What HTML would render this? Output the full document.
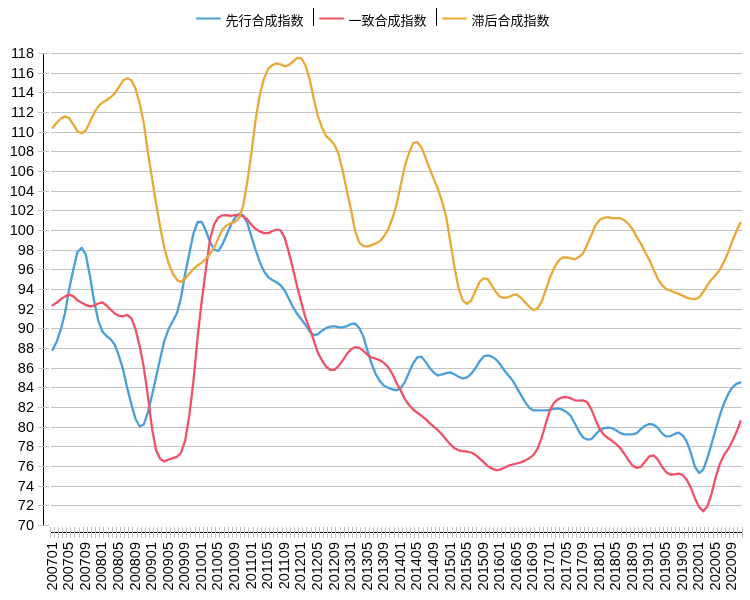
<!DOCTYPE html><html><head><meta charset="utf-8"><title>chart</title><style>
html,body{margin:0;padding:0;background:#fff;}
body{width:750px;height:600px;position:relative;overflow:hidden;font-family:"Liberation Sans","Noto Sans CJK SC",sans-serif;color:#000;}
.yl{position:absolute;left:0;width:34px;text-align:right;font-size:14.5px;line-height:14px;height:14px;}
.xl{position:absolute;font-size:14.5px;line-height:14px;height:14px;width:60px;text-align:right;transform-origin:0 0;transform:rotate(-90deg);white-space:nowrap;}
.lg{position:absolute;top:12.6px;font-size:13px;line-height:16px;white-space:nowrap;}
</style></head><body>
<svg width="750" height="600" viewBox="0 0 750 600" style="position:absolute;left:0;top:0">
<line x1="43.5" y1="54" x2="43.5" y2="525" stroke="#000" stroke-width="1"/>
<line x1="51" y1="53.5" x2="742" y2="53.5" stroke="#c4c4c4" stroke-width="1"/>
<line x1="38" y1="53.5" x2="49" y2="53.5" stroke="#c4c4c4" stroke-width="1"/>
<line x1="51" y1="73.5" x2="742" y2="73.5" stroke="#c4c4c4" stroke-width="1"/>
<line x1="38" y1="73.5" x2="49" y2="73.5" stroke="#c4c4c4" stroke-width="1"/>
<line x1="51" y1="92.5" x2="742" y2="92.5" stroke="#c4c4c4" stroke-width="1"/>
<line x1="38" y1="92.5" x2="49" y2="92.5" stroke="#c4c4c4" stroke-width="1"/>
<line x1="51" y1="112.5" x2="742" y2="112.5" stroke="#c4c4c4" stroke-width="1"/>
<line x1="38" y1="112.5" x2="49" y2="112.5" stroke="#c4c4c4" stroke-width="1"/>
<line x1="51" y1="132.5" x2="742" y2="132.5" stroke="#c4c4c4" stroke-width="1"/>
<line x1="38" y1="132.5" x2="49" y2="132.5" stroke="#c4c4c4" stroke-width="1"/>
<line x1="51" y1="151.5" x2="742" y2="151.5" stroke="#c4c4c4" stroke-width="1"/>
<line x1="38" y1="151.5" x2="49" y2="151.5" stroke="#c4c4c4" stroke-width="1"/>
<line x1="51" y1="171.5" x2="742" y2="171.5" stroke="#c4c4c4" stroke-width="1"/>
<line x1="38" y1="171.5" x2="49" y2="171.5" stroke="#c4c4c4" stroke-width="1"/>
<line x1="51" y1="191.5" x2="742" y2="191.5" stroke="#c4c4c4" stroke-width="1"/>
<line x1="38" y1="191.5" x2="49" y2="191.5" stroke="#c4c4c4" stroke-width="1"/>
<line x1="51" y1="210.5" x2="742" y2="210.5" stroke="#c4c4c4" stroke-width="1"/>
<line x1="38" y1="210.5" x2="49" y2="210.5" stroke="#c4c4c4" stroke-width="1"/>
<line x1="51" y1="230.5" x2="742" y2="230.5" stroke="#c4c4c4" stroke-width="1"/>
<line x1="38" y1="230.5" x2="49" y2="230.5" stroke="#c4c4c4" stroke-width="1"/>
<line x1="51" y1="250.5" x2="742" y2="250.5" stroke="#c4c4c4" stroke-width="1"/>
<line x1="38" y1="250.5" x2="49" y2="250.5" stroke="#c4c4c4" stroke-width="1"/>
<line x1="51" y1="269.5" x2="742" y2="269.5" stroke="#c4c4c4" stroke-width="1"/>
<line x1="38" y1="269.5" x2="49" y2="269.5" stroke="#c4c4c4" stroke-width="1"/>
<line x1="51" y1="289.5" x2="742" y2="289.5" stroke="#c4c4c4" stroke-width="1"/>
<line x1="38" y1="289.5" x2="49" y2="289.5" stroke="#c4c4c4" stroke-width="1"/>
<line x1="51" y1="309.5" x2="742" y2="309.5" stroke="#c4c4c4" stroke-width="1"/>
<line x1="38" y1="309.5" x2="49" y2="309.5" stroke="#c4c4c4" stroke-width="1"/>
<line x1="51" y1="328.5" x2="742" y2="328.5" stroke="#c4c4c4" stroke-width="1"/>
<line x1="38" y1="328.5" x2="49" y2="328.5" stroke="#c4c4c4" stroke-width="1"/>
<line x1="51" y1="348.5" x2="742" y2="348.5" stroke="#c4c4c4" stroke-width="1"/>
<line x1="38" y1="348.5" x2="49" y2="348.5" stroke="#c4c4c4" stroke-width="1"/>
<line x1="51" y1="368.5" x2="742" y2="368.5" stroke="#c4c4c4" stroke-width="1"/>
<line x1="38" y1="368.5" x2="49" y2="368.5" stroke="#c4c4c4" stroke-width="1"/>
<line x1="51" y1="387.5" x2="742" y2="387.5" stroke="#c4c4c4" stroke-width="1"/>
<line x1="38" y1="387.5" x2="49" y2="387.5" stroke="#c4c4c4" stroke-width="1"/>
<line x1="51" y1="407.5" x2="742" y2="407.5" stroke="#c4c4c4" stroke-width="1"/>
<line x1="38" y1="407.5" x2="49" y2="407.5" stroke="#c4c4c4" stroke-width="1"/>
<line x1="51" y1="427.5" x2="742" y2="427.5" stroke="#c4c4c4" stroke-width="1"/>
<line x1="38" y1="427.5" x2="49" y2="427.5" stroke="#c4c4c4" stroke-width="1"/>
<line x1="51" y1="446.5" x2="742" y2="446.5" stroke="#c4c4c4" stroke-width="1"/>
<line x1="38" y1="446.5" x2="49" y2="446.5" stroke="#c4c4c4" stroke-width="1"/>
<line x1="51" y1="466.5" x2="742" y2="466.5" stroke="#c4c4c4" stroke-width="1"/>
<line x1="38" y1="466.5" x2="49" y2="466.5" stroke="#c4c4c4" stroke-width="1"/>
<line x1="51" y1="486.5" x2="742" y2="486.5" stroke="#c4c4c4" stroke-width="1"/>
<line x1="38" y1="486.5" x2="49" y2="486.5" stroke="#c4c4c4" stroke-width="1"/>
<line x1="51" y1="505.5" x2="742" y2="505.5" stroke="#c4c4c4" stroke-width="1"/>
<line x1="38" y1="505.5" x2="49" y2="505.5" stroke="#c4c4c4" stroke-width="1"/>
<line x1="38" y1="525.5" x2="49" y2="525.5" stroke="#c4c4c4" stroke-width="1"/>
<line x1="50" y1="532.5" x2="743" y2="532.5" stroke="#000" stroke-width="1"/>
<line x1="50.5" y1="527" x2="50.5" y2="538" stroke="#c4c4c4" stroke-width="1"/>
<line x1="54.5" y1="527" x2="54.5" y2="538" stroke="#c4c4c4" stroke-width="1"/>
<line x1="58.5" y1="527" x2="58.5" y2="538" stroke="#c4c4c4" stroke-width="1"/>
<line x1="62.5" y1="527" x2="62.5" y2="538" stroke="#c4c4c4" stroke-width="1"/>
<line x1="66.5" y1="527" x2="66.5" y2="538" stroke="#c4c4c4" stroke-width="1"/>
<line x1="70.5" y1="527" x2="70.5" y2="538" stroke="#c4c4c4" stroke-width="1"/>
<line x1="74.5" y1="527" x2="74.5" y2="538" stroke="#c4c4c4" stroke-width="1"/>
<line x1="79.5" y1="527" x2="79.5" y2="538" stroke="#c4c4c4" stroke-width="1"/>
<line x1="83.5" y1="527" x2="83.5" y2="538" stroke="#c4c4c4" stroke-width="1"/>
<line x1="87.5" y1="527" x2="87.5" y2="538" stroke="#c4c4c4" stroke-width="1"/>
<line x1="91.5" y1="527" x2="91.5" y2="538" stroke="#c4c4c4" stroke-width="1"/>
<line x1="95.5" y1="527" x2="95.5" y2="538" stroke="#c4c4c4" stroke-width="1"/>
<line x1="99.5" y1="527" x2="99.5" y2="538" stroke="#c4c4c4" stroke-width="1"/>
<line x1="103.5" y1="527" x2="103.5" y2="538" stroke="#c4c4c4" stroke-width="1"/>
<line x1="108.5" y1="527" x2="108.5" y2="538" stroke="#c4c4c4" stroke-width="1"/>
<line x1="112.5" y1="527" x2="112.5" y2="538" stroke="#c4c4c4" stroke-width="1"/>
<line x1="116.5" y1="527" x2="116.5" y2="538" stroke="#c4c4c4" stroke-width="1"/>
<line x1="120.5" y1="527" x2="120.5" y2="538" stroke="#c4c4c4" stroke-width="1"/>
<line x1="124.5" y1="527" x2="124.5" y2="538" stroke="#c4c4c4" stroke-width="1"/>
<line x1="128.5" y1="527" x2="128.5" y2="538" stroke="#c4c4c4" stroke-width="1"/>
<line x1="132.5" y1="527" x2="132.5" y2="538" stroke="#c4c4c4" stroke-width="1"/>
<line x1="137.5" y1="527" x2="137.5" y2="538" stroke="#c4c4c4" stroke-width="1"/>
<line x1="141.5" y1="527" x2="141.5" y2="538" stroke="#c4c4c4" stroke-width="1"/>
<line x1="145.5" y1="527" x2="145.5" y2="538" stroke="#c4c4c4" stroke-width="1"/>
<line x1="149.5" y1="527" x2="149.5" y2="538" stroke="#c4c4c4" stroke-width="1"/>
<line x1="153.5" y1="527" x2="153.5" y2="538" stroke="#c4c4c4" stroke-width="1"/>
<line x1="157.5" y1="527" x2="157.5" y2="538" stroke="#c4c4c4" stroke-width="1"/>
<line x1="161.5" y1="527" x2="161.5" y2="538" stroke="#c4c4c4" stroke-width="1"/>
<line x1="166.5" y1="527" x2="166.5" y2="538" stroke="#c4c4c4" stroke-width="1"/>
<line x1="170.5" y1="527" x2="170.5" y2="538" stroke="#c4c4c4" stroke-width="1"/>
<line x1="174.5" y1="527" x2="174.5" y2="538" stroke="#c4c4c4" stroke-width="1"/>
<line x1="178.5" y1="527" x2="178.5" y2="538" stroke="#c4c4c4" stroke-width="1"/>
<line x1="182.5" y1="527" x2="182.5" y2="538" stroke="#c4c4c4" stroke-width="1"/>
<line x1="186.5" y1="527" x2="186.5" y2="538" stroke="#c4c4c4" stroke-width="1"/>
<line x1="190.5" y1="527" x2="190.5" y2="538" stroke="#c4c4c4" stroke-width="1"/>
<line x1="195.5" y1="527" x2="195.5" y2="538" stroke="#c4c4c4" stroke-width="1"/>
<line x1="199.5" y1="527" x2="199.5" y2="538" stroke="#c4c4c4" stroke-width="1"/>
<line x1="203.5" y1="527" x2="203.5" y2="538" stroke="#c4c4c4" stroke-width="1"/>
<line x1="207.5" y1="527" x2="207.5" y2="538" stroke="#c4c4c4" stroke-width="1"/>
<line x1="211.5" y1="527" x2="211.5" y2="538" stroke="#c4c4c4" stroke-width="1"/>
<line x1="215.5" y1="527" x2="215.5" y2="538" stroke="#c4c4c4" stroke-width="1"/>
<line x1="219.5" y1="527" x2="219.5" y2="538" stroke="#c4c4c4" stroke-width="1"/>
<line x1="224.5" y1="527" x2="224.5" y2="538" stroke="#c4c4c4" stroke-width="1"/>
<line x1="228.5" y1="527" x2="228.5" y2="538" stroke="#c4c4c4" stroke-width="1"/>
<line x1="232.5" y1="527" x2="232.5" y2="538" stroke="#c4c4c4" stroke-width="1"/>
<line x1="236.5" y1="527" x2="236.5" y2="538" stroke="#c4c4c4" stroke-width="1"/>
<line x1="240.5" y1="527" x2="240.5" y2="538" stroke="#c4c4c4" stroke-width="1"/>
<line x1="244.5" y1="527" x2="244.5" y2="538" stroke="#c4c4c4" stroke-width="1"/>
<line x1="248.5" y1="527" x2="248.5" y2="538" stroke="#c4c4c4" stroke-width="1"/>
<line x1="253.5" y1="527" x2="253.5" y2="538" stroke="#c4c4c4" stroke-width="1"/>
<line x1="257.5" y1="527" x2="257.5" y2="538" stroke="#c4c4c4" stroke-width="1"/>
<line x1="261.5" y1="527" x2="261.5" y2="538" stroke="#c4c4c4" stroke-width="1"/>
<line x1="265.5" y1="527" x2="265.5" y2="538" stroke="#c4c4c4" stroke-width="1"/>
<line x1="269.5" y1="527" x2="269.5" y2="538" stroke="#c4c4c4" stroke-width="1"/>
<line x1="273.5" y1="527" x2="273.5" y2="538" stroke="#c4c4c4" stroke-width="1"/>
<line x1="277.5" y1="527" x2="277.5" y2="538" stroke="#c4c4c4" stroke-width="1"/>
<line x1="282.5" y1="527" x2="282.5" y2="538" stroke="#c4c4c4" stroke-width="1"/>
<line x1="286.5" y1="527" x2="286.5" y2="538" stroke="#c4c4c4" stroke-width="1"/>
<line x1="290.5" y1="527" x2="290.5" y2="538" stroke="#c4c4c4" stroke-width="1"/>
<line x1="294.5" y1="527" x2="294.5" y2="538" stroke="#c4c4c4" stroke-width="1"/>
<line x1="298.5" y1="527" x2="298.5" y2="538" stroke="#c4c4c4" stroke-width="1"/>
<line x1="302.5" y1="527" x2="302.5" y2="538" stroke="#c4c4c4" stroke-width="1"/>
<line x1="306.5" y1="527" x2="306.5" y2="538" stroke="#c4c4c4" stroke-width="1"/>
<line x1="311.5" y1="527" x2="311.5" y2="538" stroke="#c4c4c4" stroke-width="1"/>
<line x1="315.5" y1="527" x2="315.5" y2="538" stroke="#c4c4c4" stroke-width="1"/>
<line x1="319.5" y1="527" x2="319.5" y2="538" stroke="#c4c4c4" stroke-width="1"/>
<line x1="323.5" y1="527" x2="323.5" y2="538" stroke="#c4c4c4" stroke-width="1"/>
<line x1="327.5" y1="527" x2="327.5" y2="538" stroke="#c4c4c4" stroke-width="1"/>
<line x1="331.5" y1="527" x2="331.5" y2="538" stroke="#c4c4c4" stroke-width="1"/>
<line x1="335.5" y1="527" x2="335.5" y2="538" stroke="#c4c4c4" stroke-width="1"/>
<line x1="340.5" y1="527" x2="340.5" y2="538" stroke="#c4c4c4" stroke-width="1"/>
<line x1="344.5" y1="527" x2="344.5" y2="538" stroke="#c4c4c4" stroke-width="1"/>
<line x1="348.5" y1="527" x2="348.5" y2="538" stroke="#c4c4c4" stroke-width="1"/>
<line x1="352.5" y1="527" x2="352.5" y2="538" stroke="#c4c4c4" stroke-width="1"/>
<line x1="356.5" y1="527" x2="356.5" y2="538" stroke="#c4c4c4" stroke-width="1"/>
<line x1="360.5" y1="527" x2="360.5" y2="538" stroke="#c4c4c4" stroke-width="1"/>
<line x1="365.5" y1="527" x2="365.5" y2="538" stroke="#c4c4c4" stroke-width="1"/>
<line x1="369.5" y1="527" x2="369.5" y2="538" stroke="#c4c4c4" stroke-width="1"/>
<line x1="373.5" y1="527" x2="373.5" y2="538" stroke="#c4c4c4" stroke-width="1"/>
<line x1="377.5" y1="527" x2="377.5" y2="538" stroke="#c4c4c4" stroke-width="1"/>
<line x1="381.5" y1="527" x2="381.5" y2="538" stroke="#c4c4c4" stroke-width="1"/>
<line x1="385.5" y1="527" x2="385.5" y2="538" stroke="#c4c4c4" stroke-width="1"/>
<line x1="389.5" y1="527" x2="389.5" y2="538" stroke="#c4c4c4" stroke-width="1"/>
<line x1="394.5" y1="527" x2="394.5" y2="538" stroke="#c4c4c4" stroke-width="1"/>
<line x1="398.5" y1="527" x2="398.5" y2="538" stroke="#c4c4c4" stroke-width="1"/>
<line x1="402.5" y1="527" x2="402.5" y2="538" stroke="#c4c4c4" stroke-width="1"/>
<line x1="406.5" y1="527" x2="406.5" y2="538" stroke="#c4c4c4" stroke-width="1"/>
<line x1="410.5" y1="527" x2="410.5" y2="538" stroke="#c4c4c4" stroke-width="1"/>
<line x1="414.5" y1="527" x2="414.5" y2="538" stroke="#c4c4c4" stroke-width="1"/>
<line x1="418.5" y1="527" x2="418.5" y2="538" stroke="#c4c4c4" stroke-width="1"/>
<line x1="423.5" y1="527" x2="423.5" y2="538" stroke="#c4c4c4" stroke-width="1"/>
<line x1="427.5" y1="527" x2="427.5" y2="538" stroke="#c4c4c4" stroke-width="1"/>
<line x1="431.5" y1="527" x2="431.5" y2="538" stroke="#c4c4c4" stroke-width="1"/>
<line x1="435.5" y1="527" x2="435.5" y2="538" stroke="#c4c4c4" stroke-width="1"/>
<line x1="439.5" y1="527" x2="439.5" y2="538" stroke="#c4c4c4" stroke-width="1"/>
<line x1="443.5" y1="527" x2="443.5" y2="538" stroke="#c4c4c4" stroke-width="1"/>
<line x1="447.5" y1="527" x2="447.5" y2="538" stroke="#c4c4c4" stroke-width="1"/>
<line x1="452.5" y1="527" x2="452.5" y2="538" stroke="#c4c4c4" stroke-width="1"/>
<line x1="456.5" y1="527" x2="456.5" y2="538" stroke="#c4c4c4" stroke-width="1"/>
<line x1="460.5" y1="527" x2="460.5" y2="538" stroke="#c4c4c4" stroke-width="1"/>
<line x1="464.5" y1="527" x2="464.5" y2="538" stroke="#c4c4c4" stroke-width="1"/>
<line x1="468.5" y1="527" x2="468.5" y2="538" stroke="#c4c4c4" stroke-width="1"/>
<line x1="472.5" y1="527" x2="472.5" y2="538" stroke="#c4c4c4" stroke-width="1"/>
<line x1="476.5" y1="527" x2="476.5" y2="538" stroke="#c4c4c4" stroke-width="1"/>
<line x1="481.5" y1="527" x2="481.5" y2="538" stroke="#c4c4c4" stroke-width="1"/>
<line x1="485.5" y1="527" x2="485.5" y2="538" stroke="#c4c4c4" stroke-width="1"/>
<line x1="489.5" y1="527" x2="489.5" y2="538" stroke="#c4c4c4" stroke-width="1"/>
<line x1="493.5" y1="527" x2="493.5" y2="538" stroke="#c4c4c4" stroke-width="1"/>
<line x1="497.5" y1="527" x2="497.5" y2="538" stroke="#c4c4c4" stroke-width="1"/>
<line x1="501.5" y1="527" x2="501.5" y2="538" stroke="#c4c4c4" stroke-width="1"/>
<line x1="505.5" y1="527" x2="505.5" y2="538" stroke="#c4c4c4" stroke-width="1"/>
<line x1="510.5" y1="527" x2="510.5" y2="538" stroke="#c4c4c4" stroke-width="1"/>
<line x1="514.5" y1="527" x2="514.5" y2="538" stroke="#c4c4c4" stroke-width="1"/>
<line x1="518.5" y1="527" x2="518.5" y2="538" stroke="#c4c4c4" stroke-width="1"/>
<line x1="522.5" y1="527" x2="522.5" y2="538" stroke="#c4c4c4" stroke-width="1"/>
<line x1="526.5" y1="527" x2="526.5" y2="538" stroke="#c4c4c4" stroke-width="1"/>
<line x1="530.5" y1="527" x2="530.5" y2="538" stroke="#c4c4c4" stroke-width="1"/>
<line x1="534.5" y1="527" x2="534.5" y2="538" stroke="#c4c4c4" stroke-width="1"/>
<line x1="539.5" y1="527" x2="539.5" y2="538" stroke="#c4c4c4" stroke-width="1"/>
<line x1="543.5" y1="527" x2="543.5" y2="538" stroke="#c4c4c4" stroke-width="1"/>
<line x1="547.5" y1="527" x2="547.5" y2="538" stroke="#c4c4c4" stroke-width="1"/>
<line x1="551.5" y1="527" x2="551.5" y2="538" stroke="#c4c4c4" stroke-width="1"/>
<line x1="555.5" y1="527" x2="555.5" y2="538" stroke="#c4c4c4" stroke-width="1"/>
<line x1="559.5" y1="527" x2="559.5" y2="538" stroke="#c4c4c4" stroke-width="1"/>
<line x1="563.5" y1="527" x2="563.5" y2="538" stroke="#c4c4c4" stroke-width="1"/>
<line x1="568.5" y1="527" x2="568.5" y2="538" stroke="#c4c4c4" stroke-width="1"/>
<line x1="572.5" y1="527" x2="572.5" y2="538" stroke="#c4c4c4" stroke-width="1"/>
<line x1="576.5" y1="527" x2="576.5" y2="538" stroke="#c4c4c4" stroke-width="1"/>
<line x1="580.5" y1="527" x2="580.5" y2="538" stroke="#c4c4c4" stroke-width="1"/>
<line x1="584.5" y1="527" x2="584.5" y2="538" stroke="#c4c4c4" stroke-width="1"/>
<line x1="588.5" y1="527" x2="588.5" y2="538" stroke="#c4c4c4" stroke-width="1"/>
<line x1="592.5" y1="527" x2="592.5" y2="538" stroke="#c4c4c4" stroke-width="1"/>
<line x1="597.5" y1="527" x2="597.5" y2="538" stroke="#c4c4c4" stroke-width="1"/>
<line x1="601.5" y1="527" x2="601.5" y2="538" stroke="#c4c4c4" stroke-width="1"/>
<line x1="605.5" y1="527" x2="605.5" y2="538" stroke="#c4c4c4" stroke-width="1"/>
<line x1="609.5" y1="527" x2="609.5" y2="538" stroke="#c4c4c4" stroke-width="1"/>
<line x1="613.5" y1="527" x2="613.5" y2="538" stroke="#c4c4c4" stroke-width="1"/>
<line x1="617.5" y1="527" x2="617.5" y2="538" stroke="#c4c4c4" stroke-width="1"/>
<line x1="621.5" y1="527" x2="621.5" y2="538" stroke="#c4c4c4" stroke-width="1"/>
<line x1="626.5" y1="527" x2="626.5" y2="538" stroke="#c4c4c4" stroke-width="1"/>
<line x1="630.5" y1="527" x2="630.5" y2="538" stroke="#c4c4c4" stroke-width="1"/>
<line x1="634.5" y1="527" x2="634.5" y2="538" stroke="#c4c4c4" stroke-width="1"/>
<line x1="638.5" y1="527" x2="638.5" y2="538" stroke="#c4c4c4" stroke-width="1"/>
<line x1="642.5" y1="527" x2="642.5" y2="538" stroke="#c4c4c4" stroke-width="1"/>
<line x1="646.5" y1="527" x2="646.5" y2="538" stroke="#c4c4c4" stroke-width="1"/>
<line x1="650.5" y1="527" x2="650.5" y2="538" stroke="#c4c4c4" stroke-width="1"/>
<line x1="655.5" y1="527" x2="655.5" y2="538" stroke="#c4c4c4" stroke-width="1"/>
<line x1="659.5" y1="527" x2="659.5" y2="538" stroke="#c4c4c4" stroke-width="1"/>
<line x1="663.5" y1="527" x2="663.5" y2="538" stroke="#c4c4c4" stroke-width="1"/>
<line x1="667.5" y1="527" x2="667.5" y2="538" stroke="#c4c4c4" stroke-width="1"/>
<line x1="671.5" y1="527" x2="671.5" y2="538" stroke="#c4c4c4" stroke-width="1"/>
<line x1="675.5" y1="527" x2="675.5" y2="538" stroke="#c4c4c4" stroke-width="1"/>
<line x1="679.5" y1="527" x2="679.5" y2="538" stroke="#c4c4c4" stroke-width="1"/>
<line x1="684.5" y1="527" x2="684.5" y2="538" stroke="#c4c4c4" stroke-width="1"/>
<line x1="688.5" y1="527" x2="688.5" y2="538" stroke="#c4c4c4" stroke-width="1"/>
<line x1="692.5" y1="527" x2="692.5" y2="538" stroke="#c4c4c4" stroke-width="1"/>
<line x1="696.5" y1="527" x2="696.5" y2="538" stroke="#c4c4c4" stroke-width="1"/>
<line x1="700.5" y1="527" x2="700.5" y2="538" stroke="#c4c4c4" stroke-width="1"/>
<line x1="704.5" y1="527" x2="704.5" y2="538" stroke="#c4c4c4" stroke-width="1"/>
<line x1="708.5" y1="527" x2="708.5" y2="538" stroke="#c4c4c4" stroke-width="1"/>
<line x1="713.5" y1="527" x2="713.5" y2="538" stroke="#c4c4c4" stroke-width="1"/>
<line x1="717.5" y1="527" x2="717.5" y2="538" stroke="#c4c4c4" stroke-width="1"/>
<line x1="721.5" y1="527" x2="721.5" y2="538" stroke="#c4c4c4" stroke-width="1"/>
<line x1="725.5" y1="527" x2="725.5" y2="538" stroke="#c4c4c4" stroke-width="1"/>
<line x1="729.5" y1="527" x2="729.5" y2="538" stroke="#c4c4c4" stroke-width="1"/>
<line x1="733.5" y1="527" x2="733.5" y2="538" stroke="#c4c4c4" stroke-width="1"/>
<line x1="737.5" y1="527" x2="737.5" y2="538" stroke="#c4c4c4" stroke-width="1"/>
<line x1="742.5" y1="527" x2="742.5" y2="538" stroke="#c4c4c4" stroke-width="1"/>
<path d="M52.6,349.9L56.8,341.4L60.9,329.2L65.1,312.5L69.2,288.9L73.4,269.3L77.5,251.8L81.7,247.8L85.8,254.7L89.9,275.7L94.1,300.7L98.2,320.4L102.4,331.4L106.5,336.0L110.7,339.4L114.8,344.8L118.9,355.9L123.1,369.4L127.2,387.9L131.4,404.4L135.5,418.7L139.7,426.5L143.8,424.5L148.0,412.2L152.1,395.1L156.2,376.4L160.4,357.7L164.5,340.3L168.7,328.8L172.8,321.3L177.0,313.1L181.1,297.3L185.2,273.5L189.4,253.0L193.5,233.3L197.7,222.0L201.8,221.9L206.0,231.1L210.1,242.0L214.3,249.7L218.4,251.0L222.5,244.3L226.7,234.5L230.8,225.3L235.0,217.7L239.1,213.7L243.3,215.5L247.4,223.3L251.5,236.8L255.7,250.1L259.8,262.1L264.0,271.4L268.1,277.0L272.3,280.1L276.4,282.3L280.6,285.3L284.7,290.6L288.8,298.7L293.0,307.0L297.1,313.8L301.3,319.3L305.4,324.7L309.6,331.4L313.7,335.0L317.8,334.4L322.0,330.7L326.1,328.1L330.3,326.7L334.4,326.1L338.6,327.3L342.7,327.4L346.9,326.1L351.0,323.9L355.1,323.6L359.3,328.1L363.4,336.7L367.6,351.1L371.7,364.1L375.9,374.5L380.0,381.4L384.1,385.7L388.3,387.7L392.4,389.4L396.6,390.3L400.7,388.1L404.9,382.1L409.0,372.5L413.2,363.1L417.3,357.4L421.4,356.6L425.6,361.9L429.7,367.9L433.9,372.7L438.0,375.5L442.2,374.4L446.3,373.1L450.4,372.4L454.6,374.5L458.7,376.7L462.9,378.5L467.0,377.4L471.2,373.8L475.3,368.5L479.5,361.4L483.6,356.4L487.7,355.4L491.9,356.6L496.0,359.4L500.2,364.3L504.3,370.4L508.5,375.5L512.6,380.4L516.7,387.6L520.9,394.9L525.0,401.9L529.2,407.7L533.3,410.4L537.5,410.4L541.6,410.4L545.8,410.4L549.9,409.9L554.0,408.9L558.2,408.3L562.3,409.7L566.5,412.0L570.6,415.6L574.8,423.5L578.9,431.5L583.0,437.4L587.2,439.6L591.3,439.2L595.5,434.6L599.6,430.4L603.8,428.2L607.9,427.6L612.0,428.2L616.2,430.3L620.3,433.1L624.5,434.4L628.6,434.4L632.8,434.4L636.9,433.1L641.1,428.8L645.2,425.7L649.3,424.0L653.5,424.7L657.6,427.6L661.8,433.1L665.9,436.4L670.1,436.2L674.2,434.1L678.3,432.6L682.5,435.2L686.6,441.4L690.8,452.6L694.9,466.7L699.1,473.1L703.2,469.6L707.4,458.2L711.5,444.0L715.6,429.7L719.8,415.5L723.9,403.7L728.1,394.1L732.2,387.6L736.4,383.9L740.5,382.4" fill="none" stroke="#4a9fd8" stroke-width="2.3" stroke-linejoin="round" stroke-linecap="round"/>
<path d="M52.6,305.4L56.8,302.5L60.9,299.1L65.1,296.4L69.2,294.6L73.4,296.4L77.5,300.3L81.7,302.7L85.8,304.9L89.9,306.4L94.1,305.6L98.2,303.5L102.4,302.4L106.5,305.5L110.7,309.7L114.8,313.5L118.9,315.8L123.1,316.1L127.2,315.0L131.4,318.3L135.5,329.1L139.7,346.4L143.8,367.4L148.0,396.7L152.1,429.2L156.2,450.5L160.4,459.2L164.5,461.4L168.7,459.5L172.8,458.1L177.0,456.8L181.1,452.7L185.2,440.4L189.4,414.9L193.5,380.6L197.7,336.1L201.8,300.5L206.0,268.3L210.1,238.8L214.3,224.0L218.4,217.4L222.5,215.3L226.7,215.2L230.8,215.8L235.0,215.1L239.1,214.9L243.3,216.5L247.4,219.5L251.5,225.0L255.7,229.0L259.8,231.4L264.0,233.1L268.1,233.2L272.3,231.3L276.4,229.5L280.6,230.4L284.7,237.9L288.8,252.3L293.0,268.9L297.1,286.3L301.3,302.5L305.4,317.4L309.6,328.5L313.7,340.1L317.8,352.5L322.0,360.5L326.1,366.7L330.3,369.8L334.4,369.8L338.6,366.2L342.7,360.3L346.9,354.1L351.0,349.3L355.1,347.2L359.3,347.9L363.4,350.9L367.6,355.0L371.7,357.6L375.9,358.7L380.0,360.3L384.1,363.1L388.3,367.3L392.4,374.0L396.6,383.0L400.7,390.6L404.9,399.2L409.0,405.0L413.2,409.5L417.3,412.8L421.4,415.8L425.6,419.1L429.7,423.1L433.9,426.9L438.0,430.2L442.2,434.8L446.3,439.8L450.4,444.4L454.6,448.3L458.7,450.3L462.9,451.2L467.0,451.5L471.2,452.5L475.3,454.8L479.5,458.4L483.6,462.2L487.7,465.9L491.9,468.4L496.0,470.1L500.2,469.6L504.3,467.7L508.5,465.7L512.6,464.5L516.7,463.5L520.9,462.4L525.0,460.6L529.2,458.3L533.3,455.2L537.5,448.9L541.6,438.2L545.8,423.5L549.9,410.2L554.0,402.9L558.2,399.2L562.3,397.3L566.5,397.0L570.6,398.3L574.8,400.3L578.9,400.6L583.0,400.4L587.2,402.2L591.3,409.1L595.5,419.6L599.6,429.0L603.8,434.6L607.9,438.0L612.0,440.8L616.2,444.0L620.3,448.1L624.5,454.0L628.6,460.4L632.8,465.9L636.9,467.9L641.1,466.6L645.2,461.5L649.3,456.3L653.5,455.4L657.6,459.1L661.8,466.5L665.9,471.9L670.1,474.5L674.2,474.5L678.3,473.6L682.5,474.8L686.6,479.5L690.8,487.6L694.9,498.2L699.1,506.9L703.2,511.3L707.4,506.2L711.5,494.1L715.6,477.5L719.8,464.2L723.9,455.1L728.1,449.2L732.2,441.5L736.4,432.3L740.5,421.3" fill="none" stroke="#ef5268" stroke-width="2.3" stroke-linejoin="round" stroke-linecap="round"/>
<path d="M52.6,127.7L56.8,122.7L60.9,118.5L65.1,116.4L69.2,118.2L73.4,124.6L77.5,131.3L81.7,133.2L85.8,130.5L89.9,122.1L94.1,112.9L98.2,106.5L102.4,102.5L106.5,100.2L110.7,97.3L114.8,93.3L118.9,87.1L123.1,80.5L127.2,78.3L131.4,80.3L135.5,88.5L139.7,103.8L143.8,123.1L148.0,152.8L152.1,178.6L156.2,204.2L160.4,228.1L164.5,248.8L168.7,263.5L172.8,273.5L177.0,279.9L181.1,281.9L185.2,278.5L189.4,273.6L193.5,269.1L197.7,265.2L201.8,262.6L206.0,258.9L210.1,253.8L214.3,247.4L218.4,238.1L222.5,229.4L226.7,225.3L230.8,223.4L235.0,221.9L239.1,218.0L243.3,205.3L247.4,181.2L251.5,152.5L255.7,119.2L259.8,94.8L264.0,78.6L268.1,68.9L272.3,65.2L276.4,63.4L280.6,64.4L284.7,66.3L288.8,65.0L293.0,61.6L297.1,57.8L301.3,58.5L305.4,65.2L309.6,78.8L313.7,98.6L317.8,115.8L322.0,127.5L326.1,136.1L330.3,139.9L334.4,144.7L338.6,154.0L342.7,170.8L346.9,191.1L351.0,210.0L355.1,230.7L359.3,242.7L363.4,246.1L367.6,246.3L371.7,245.1L375.9,243.3L380.0,241.0L384.1,236.3L388.3,229.0L392.4,218.5L396.6,204.3L400.7,185.4L404.9,165.7L409.0,153.0L413.2,143.1L417.3,142.2L421.4,147.2L425.6,157.8L429.7,168.9L433.9,179.4L438.0,189.0L442.2,202.1L446.3,217.5L450.4,242.0L454.6,267.9L458.7,288.6L462.9,300.7L467.0,303.9L471.2,300.5L475.3,291.2L479.5,282.0L483.6,278.4L487.7,279.1L491.9,285.5L496.0,292.2L500.2,297.0L504.3,297.9L508.5,297.1L512.6,295.2L516.7,294.4L520.9,297.9L525.0,302.0L529.2,306.7L533.3,310.2L537.5,308.3L541.6,301.8L545.8,289.9L549.9,277.8L554.0,268.1L558.2,261.2L562.3,257.5L566.5,257.3L570.6,258.3L574.8,259.3L578.9,257.1L583.0,253.5L587.2,244.6L591.3,235.2L595.5,225.3L599.6,220.0L603.8,217.8L607.9,217.1L612.0,218.2L616.2,218.2L620.3,218.2L624.5,220.3L628.6,224.0L632.8,229.5L636.9,237.4L641.1,244.1L645.2,252.3L649.3,259.8L653.5,269.5L657.6,278.3L661.8,284.9L665.9,288.9L670.1,290.5L674.2,292.3L678.3,293.6L682.5,295.6L686.6,297.6L690.8,298.7L694.9,299.2L699.1,297.5L703.2,292.0L707.4,285.1L711.5,279.5L715.6,275.2L719.8,269.7L723.9,262.0L728.1,252.6L732.2,241.3L736.4,231.2L740.5,222.6" fill="none" stroke="#e9a936" stroke-width="2.3" stroke-linejoin="round" stroke-linecap="round"/>
<line x1="197" y1="18.4" x2="220" y2="18.4" stroke="#4a9fd8" stroke-width="2" stroke-linecap="round"/>
<line x1="320" y1="18.4" x2="343" y2="18.4" stroke="#ef5268" stroke-width="2" stroke-linecap="round"/>
<line x1="443" y1="18.4" x2="466" y2="18.4" stroke="#e9a936" stroke-width="2" stroke-linecap="round"/>
<line x1="313.5" y1="8" x2="313.5" y2="26" stroke="#000" stroke-width="1"/>
<line x1="436.5" y1="8" x2="436.5" y2="26" stroke="#000" stroke-width="1"/>
</svg>
<div class="yl" style="top:46.0px">118</div>
<div class="yl" style="top:65.7px">116</div>
<div class="yl" style="top:85.3px">114</div>
<div class="yl" style="top:105.0px">112</div>
<div class="yl" style="top:124.7px">110</div>
<div class="yl" style="top:144.3px">108</div>
<div class="yl" style="top:164.0px">106</div>
<div class="yl" style="top:183.7px">104</div>
<div class="yl" style="top:203.3px">102</div>
<div class="yl" style="top:223.0px">100</div>
<div class="yl" style="top:242.7px">98</div>
<div class="yl" style="top:262.3px">96</div>
<div class="yl" style="top:282.0px">94</div>
<div class="yl" style="top:301.7px">92</div>
<div class="yl" style="top:321.3px">90</div>
<div class="yl" style="top:341.0px">88</div>
<div class="yl" style="top:360.7px">86</div>
<div class="yl" style="top:380.3px">84</div>
<div class="yl" style="top:400.0px">82</div>
<div class="yl" style="top:419.7px">80</div>
<div class="yl" style="top:439.3px">78</div>
<div class="yl" style="top:459.0px">76</div>
<div class="yl" style="top:478.7px">74</div>
<div class="yl" style="top:498.3px">72</div>
<div class="yl" style="top:518.0px">70</div>
<div class="xl" style="left:44.7px;top:602px">200701</div>
<div class="xl" style="left:61.3px;top:602px">200705</div>
<div class="xl" style="left:77.8px;top:602px">200709</div>
<div class="xl" style="left:94.4px;top:602px">200801</div>
<div class="xl" style="left:111.0px;top:602px">200805</div>
<div class="xl" style="left:127.6px;top:602px">200809</div>
<div class="xl" style="left:144.1px;top:602px">200901</div>
<div class="xl" style="left:160.7px;top:602px">200905</div>
<div class="xl" style="left:177.3px;top:602px">200909</div>
<div class="xl" style="left:193.9px;top:602px">201001</div>
<div class="xl" style="left:210.4px;top:602px">201005</div>
<div class="xl" style="left:227.0px;top:602px">201009</div>
<div class="xl" style="left:243.6px;top:602px">201101</div>
<div class="xl" style="left:260.2px;top:602px">201105</div>
<div class="xl" style="left:276.7px;top:602px">201109</div>
<div class="xl" style="left:293.3px;top:602px">201201</div>
<div class="xl" style="left:309.9px;top:602px">201205</div>
<div class="xl" style="left:326.5px;top:602px">201209</div>
<div class="xl" style="left:343.0px;top:602px">201301</div>
<div class="xl" style="left:359.6px;top:602px">201305</div>
<div class="xl" style="left:376.2px;top:602px">201309</div>
<div class="xl" style="left:392.8px;top:602px">201401</div>
<div class="xl" style="left:409.3px;top:602px">201405</div>
<div class="xl" style="left:425.9px;top:602px">201409</div>
<div class="xl" style="left:442.5px;top:602px">201501</div>
<div class="xl" style="left:459.1px;top:602px">201505</div>
<div class="xl" style="left:475.6px;top:602px">201509</div>
<div class="xl" style="left:492.2px;top:602px">201601</div>
<div class="xl" style="left:508.8px;top:602px">201605</div>
<div class="xl" style="left:525.4px;top:602px">201609</div>
<div class="xl" style="left:541.9px;top:602px">201701</div>
<div class="xl" style="left:558.5px;top:602px">201705</div>
<div class="xl" style="left:575.1px;top:602px">201709</div>
<div class="xl" style="left:591.7px;top:602px">201801</div>
<div class="xl" style="left:608.2px;top:602px">201805</div>
<div class="xl" style="left:624.8px;top:602px">201809</div>
<div class="xl" style="left:641.4px;top:602px">201901</div>
<div class="xl" style="left:658.0px;top:602px">201905</div>
<div class="xl" style="left:674.5px;top:602px">201909</div>
<div class="xl" style="left:691.1px;top:602px">202001</div>
<div class="xl" style="left:707.7px;top:602px">202005</div>
<div class="xl" style="left:724.3px;top:602px">202009</div>
<div class="lg" style="left:225.5px">先行合成指数</div>
<div class="lg" style="left:348.5px">一致合成指数</div>
<div class="lg" style="left:471.5px">滞后合成指数</div>
</body></html>
